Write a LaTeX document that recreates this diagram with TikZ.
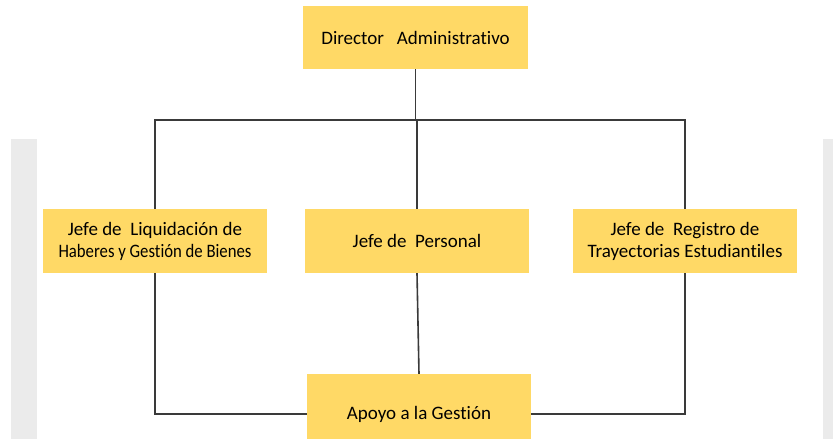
\documentclass[tikz,border=0pt]{standalone}
\usepackage{fontspec}
\setmainfont{Carlito}[Ligatures=NoCommon]
\definecolor{boxfill}{HTML}{FFD966}
\definecolor{band}{HTML}{EBEBEB}
\definecolor{linec}{HTML}{3A3A3A}
\begin{document}
\begin{tikzpicture}[x=1pt,y=-1pt,
  orgbox/.style={fill=boxfill, draw=none, inner sep=0pt, align=center,
    minimum width=224pt, minimum height=64pt,
    font=\fontsize{19}{22}\selectfont},
  conn/.style={draw=linec, line width=1.6pt}]
\clip (0,0) rectangle (833,439);
\fill[white] (0,0) rectangle (833,439);
\fill[band] (11,139) rectangle (37,439);
\fill[band] (823,139) rectangle (833,439);
\node[orgbox, minimum width=225pt, minimum height=63pt] (dir) at (415.5,37.5) {Director\ \ \ Administrativo};
\node[orgbox] (liq) at (155,241) {Jefe de\ \ Liquidación de\\\addfontfeature{FakeStretch=0.88}Haberes y Gestión de Bienes};
\node[orgbox] (pers) at (417,241) {Jefe de\ \ Personal};
\node[orgbox] (reg) at (685,241) {Jefe de\ \ Registro de\\Trayectorias Estudiantiles};
\node[orgbox, minimum height=80pt] (apo) at (419,414) {Apoyo a la Gestión};
\coordinate (bar) at (0,120);
\draw[conn] (dir.south) -- (dir.south |- bar);
\draw[conn] (liq.north) -- (liq.north |- bar) -- (reg.north |- bar) -- (reg.north);
\draw[conn] (pers.north) -- (pers.north |- bar);
\draw[conn] (pers.south) -- (apo.north);
\draw[conn] (liq.south) -- (liq.south |- apo.west) -- (apo.west);
\draw[conn] (reg.south) -- (reg.south |- apo.east) -- (apo.east);
\end{tikzpicture}
\end{document}
